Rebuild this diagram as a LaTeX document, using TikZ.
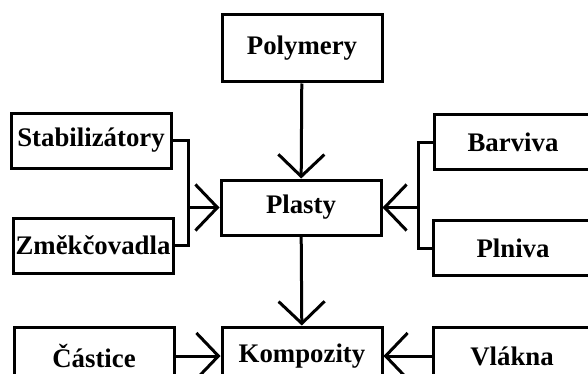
\documentclass[tikz,border=0pt]{standalone}
\usepackage{fontspec}
\setmainfont{Liberation Serif}
\usetikzlibrary{arrows.meta}

\begin{document}
\begin{tikzpicture}[x=0.5pt, y=-0.5pt,
	box/.style={draw, line width=1.5pt, minimum width=80pt, minimum height=27.5pt,
		inner sep=0pt, font=\fontsize{13.4}{16}\selectfont\bfseries},
	link/.style={line width=1.5pt},
	arr/.style={link, -{Straight Barb[length=11pt, width=23pt]}}]
	\clip (0, 0) rectangle (588, 374);
	% boxes
	\node[box, minimum height=33.5pt] (polymery) at (302, 48.5) {Polymery};
	\node[box] (plasty) at (301, 207.5) {Plasty};
	\node[box] (stab) at (91, 140.5) {Stabilizátory};
	\node[box] (zmek) at (93, 245.5) {Změkčovadla};
	\node[box, minimum width=79pt] (barviva) at (513, 142) {Barviva};
	\node[box] (plniva) at (513, 248) {Plniva};
	\node[box, minimum height=29pt] (castice) at (94, 356) {Částice};
	\node[box, minimum height=29pt] (kompozity) at (302, 356) {Kompozity};
	\node[box, minimum width=79pt, minimum height=29pt] (vlakna) at (512, 356) {Vlákna};
	% joints
	\coordinate (jl) at (188, 207.5);
	\coordinate (jr) at (418, 207.5);
	% connectors
	\draw[arr] (polymery) -- (plasty);
	\draw[arr] (plasty) -- (kompozity);
	\draw[link] (stab.east) -| (jl) |- (zmek.east);
	\draw[arr] (jl) -- (plasty.west);
	\draw[link] (barviva.west) -| (jr) |- (plniva.west);
	\draw[arr] (jr) -- (plasty.east);
	\draw[arr] (castice) -- (kompozity);
	\draw[arr] (vlakna) -- (kompozity);
\end{tikzpicture}
\end{document}
